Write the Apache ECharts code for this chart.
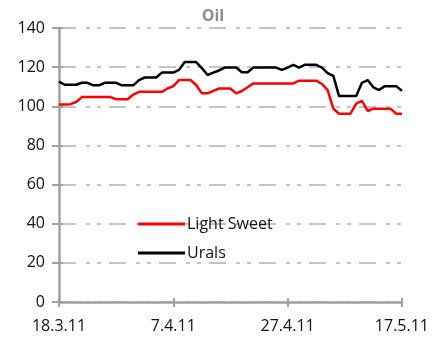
<!DOCTYPE html>
<html>
<head>
<meta charset="utf-8">
<script src="https://cdn.jsdelivr.net/npm/echarts@6/dist/echarts.min.js"></script>
<style>
html,body{margin:0;padding:0;background:#fff;}
#c{width:432px;height:342px;}
</style>
</head>
<body>
<div id="c"></div>
<script>
var dates = ["18.3.11","19.3.11","20.3.11","21.3.11","22.3.11","23.3.11","24.3.11","25.3.11","26.3.11","27.3.11",
"28.3.11","29.3.11","30.3.11","31.3.11","1.4.11","2.4.11","3.4.11","4.4.11","5.4.11","6.4.11",
"7.4.11","8.4.11","9.4.11","10.4.11","11.4.11","12.4.11","13.4.11","14.4.11","15.4.11","16.4.11",
"17.4.11","18.4.11","19.4.11","20.4.11","21.4.11","22.4.11","23.4.11","24.4.11","25.4.11","26.4.11",
"27.4.11","28.4.11","29.4.11","30.4.11","1.5.11","2.5.11","3.5.11","4.5.11","5.5.11","6.5.11",
"7.5.11","8.5.11","9.5.11","10.5.11","11.5.11","12.5.11","13.5.11","14.5.11","15.5.11","16.5.11","17.5.11"];

var lightSweet = [100.9,100.9,101.1,102.2,104.7,104.7,104.7,104.7,104.7,104.7,
103.6,103.6,103.6,106.0,107.4,107.4,107.4,107.4,107.4,109.1,
110.3,113.4,113.4,113.4,110.9,106.6,106.6,107.9,109.1,109.1,
109.1,106.6,107.8,109.7,111.7,111.7,111.7,111.7,111.7,111.7,
111.7,111.7,113.1,113.1,113.1,113.1,111.4,108.3,98.8,96.2,
96.2,96.2,101.4,102.8,97.6,98.8,98.8,98.8,98.8,96.2,96.2];

var urals = [112.6,111.0,111.0,111.0,112.0,112.0,110.7,110.7,112.0,112.0,
112.0,110.7,110.7,110.7,113.4,114.7,114.7,114.7,117.2,117.2,
117.2,118.6,122.6,122.6,122.6,119.5,116.0,117.2,118.3,119.8,
119.8,119.8,117.4,117.4,119.8,119.8,119.8,119.8,119.8,118.6,
119.8,121.2,119.8,121.2,121.2,121.2,119.8,116.9,115.5,105.2,
105.2,105.2,105.2,112.0,113.4,109.7,108.3,110.3,110.3,110.3,107.9];

var seriesNames = ["Light Sweet","Urals"];
var titleText = "Oil";

var chart = echarts.init(document.getElementById('c'), null, {renderer:'canvas'});
var FONT = "Open Sans";
var gridDash = [17,10,4,7,4,8];
var axisGrey = '#a0a0a0';

chart.setOption({
  animation:false,
  title:{
    text:titleText, left:208, top:3, textAlign:'center',
    textStyle:{fontFamily:FONT, fontSize:16, fontWeight:'bold', color:'#8c8c8c'}
  },
  legend:{
    orient:'vertical', left:133, top:211, itemGap:13, itemWidth:47, itemHeight:3,
    icon:'rect',
    textStyle:{fontFamily:FONT, fontSize:16, color:'#111', padding:[0,0,0,-3]},
    data:seriesNames
  },
  grid:{left:59, right:27, top:28, bottom:40, containLabel:false},
  xAxis:[{
    type:'category', data:dates, boundaryGap:false,
    axisLine:{lineStyle:{color:axisGrey, width:2.5}},
    axisTick:{show:true, interval:19, length:5, lineStyle:{color:axisGrey, width:2}},
    axisLabel:{interval:19, margin:16, fontFamily:FONT, fontSize:16, color:'#111', showMaxLabel:true},
    splitLine:{show:false}
  },{
    type:'category', data:dates, boundaryGap:false, position:'bottom',
    axisLine:{show:false},
    axisTick:{show:true, inside:true, interval:19, length:4, lineStyle:{color:axisGrey, width:2}},
    axisLabel:{show:false}, splitLine:{show:false}
  }],
  yAxis:[{
    type:'value', min:0, max:140, interval:20,
    axisLine:{show:true, lineStyle:{color:axisGrey, width:2.5}},
    axisTick:{show:true, length:7, lineStyle:{color:axisGrey, width:2}},
    axisLabel:{margin:14, fontFamily:FONT, fontSize:16, color:'#111'},
    splitLine:{show:true, lineStyle:{color:'#c4c4c4', width:2, type:gridDash}}
  },{
    type:'value', min:0, max:140, interval:20, position:'left',
    axisLine:{show:false},
    axisTick:{show:true, inside:true, length:4, lineStyle:{color:axisGrey, width:2}},
    axisLabel:{show:false}, splitLine:{show:false}
  }],
  series:[{
    name:seriesNames[0], type:'line', data:lightSweet, showSymbol:false, symbol:'none',
    lineStyle:{color:'#ff0000', width:2.5}, itemStyle:{color:'#ff0000'}
  },{
    name:seriesNames[1], type:'line', data:urals, showSymbol:false, symbol:'none',
    lineStyle:{color:'#000000', width:2.5}, itemStyle:{color:'#000000'}
  }]
});
</script>
</body>
</html>
